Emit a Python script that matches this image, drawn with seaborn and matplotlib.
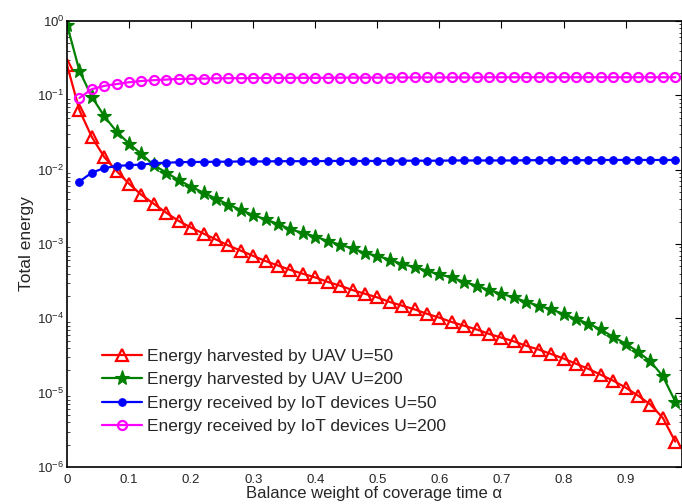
import numpy as np
import pandas as pd
import matplotlib
matplotlib.use('Agg')
import matplotlib.pyplot as plt
import seaborn as sns

# balance weight alpha
alpha_uav = [0.00, 0.02, 0.04, 0.06, 0.08, 0.10, 0.12, 0.14, 0.16, 0.18,
             0.20, 0.22, 0.24, 0.26, 0.28, 0.30, 0.32, 0.34, 0.36, 0.38,
             0.40, 0.42, 0.44, 0.46, 0.48, 0.50, 0.52, 0.54, 0.56, 0.58,
             0.60, 0.62, 0.64, 0.66, 0.68, 0.70, 0.72, 0.74, 0.76, 0.78,
             0.80, 0.82, 0.84, 0.86, 0.88, 0.90, 0.92, 0.94, 0.96, 0.98]
alpha_iot = alpha_uav[1:]

uav_u50 = [0.257, 0.0631, 0.0275, 0.0148, 0.00955, 0.00646, 0.00457, 0.00347, 0.00263, 0.00204,
           0.00166, 0.00138, 0.00115, 9.55e-4, 8.13e-4, 6.92e-4, 5.89e-4, 5.13e-4, 4.47e-4, 3.98e-4,
           3.55e-4, 3.09e-4, 2.75e-4, 2.40e-4, 2.14e-4, 1.91e-4, 1.66e-4, 1.48e-4, 1.32e-4, 1.15e-4,
           1.02e-4, 8.91e-5, 7.94e-5, 7.08e-5, 6.17e-5, 5.50e-5, 4.90e-5, 4.27e-5, 3.80e-5, 3.31e-5,
           2.88e-5, 2.45e-5, 2.09e-5, 1.74e-5, 1.45e-5, 1.17e-5, 9.12e-6, 6.92e-6, 4.57e-6, 2.19e-6]

uav_u200 = [0.891, 0.214, 0.0955, 0.0525, 0.0324, 0.0224, 0.0162, 0.0115, 0.00912, 0.00724,
            0.00589, 0.00490, 0.00407, 0.00339, 0.00288, 0.00245, 0.00214, 0.00186, 0.00158, 0.00141,
            0.00126, 0.00110, 9.77e-4, 8.71e-4, 7.59e-4, 6.92e-4, 6.17e-4, 5.37e-4, 4.90e-4, 4.37e-4,
            3.89e-4, 3.55e-4, 3.09e-4, 2.75e-4, 2.40e-4, 2.14e-4, 1.91e-4, 1.66e-4, 1.48e-4, 1.32e-4,
            1.15e-4, 9.77e-5, 8.51e-5, 7.08e-5, 5.62e-5, 4.57e-5, 3.55e-5, 2.63e-5, 1.66e-5, 7.59e-6]

iot_u50 = [0.00692, 0.00912, 0.0105, 0.0112, 0.0115, 0.0117, 0.0122, 0.0124, 0.0126,
           0.0127, 0.0127, 0.0128, 0.0128, 0.0129, 0.0129, 0.0129, 0.0130, 0.0130, 0.0130,
           0.0130, 0.0131, 0.0131, 0.0131, 0.0131, 0.0131, 0.0132, 0.0132, 0.0132, 0.0132,
           0.0132, 0.0133, 0.0133, 0.0133, 0.0133, 0.0133, 0.0133, 0.0134, 0.0134, 0.0134,
           0.0134, 0.0134, 0.0134, 0.0135, 0.0135, 0.0135, 0.0135, 0.0135, 0.0135, 0.0135]

iot_u200 = [0.0923, 0.121, 0.134, 0.142, 0.150, 0.156, 0.160, 0.163, 0.166,
            0.167, 0.168, 0.169, 0.170, 0.170, 0.171, 0.171, 0.171, 0.172, 0.172,
            0.172, 0.172, 0.173, 0.173, 0.173, 0.173, 0.173, 0.174, 0.174, 0.174,
            0.174, 0.174, 0.174, 0.174, 0.175, 0.175, 0.175, 0.175, 0.175, 0.175,
            0.175, 0.175, 0.175, 0.175, 0.175, 0.175, 0.175, 0.175, 0.175, 0.175]

labels = ['Energy harvested by UAV U=50', 'Energy harvested by UAV U=200',
          'Energy received by IoT devices U=50', 'Energy received by IoT devices U=200']

sns.set_style('white')
plt.rcParams['font.family'] = ['Liberation Sans', 'DejaVu Sans']
plt.rcParams['mathtext.default'] = 'regular'
plt.rcParams['xtick.direction'] = 'in'
plt.rcParams['ytick.direction'] = 'in'

fig = plt.figure(figsize=(6.82, 5.04), dpi=100)
ax = fig.add_axes([67 / 682, 37 / 504, 614.5 / 682, 446 / 504])

sns.lineplot(x=alpha_uav, y=uav_u50, ax=ax, color='#ff0000', lw=1.6, marker='^', ms=8,
             mfc='none', mec='#ff0000', mew=1.6, label=labels[0])
sns.lineplot(x=alpha_uav, y=uav_u200, ax=ax, color='#008000', lw=1.6, marker='*', ms=11,
             mfc='#008000', mec='#008000', mew=0.8, label=labels[1])
sns.lineplot(x=alpha_iot, y=iot_u50, ax=ax, color='#0000ff', lw=1.6, marker='o', ms=5.5,
             mfc='#0000ff', mec='#0000ff', label=labels[2])
sns.lineplot(x=alpha_iot, y=iot_u200, ax=ax, color='#ff00ff', lw=1.6, marker='o', ms=6.5,
             mfc='none', mec='#ff00ff', mew=1.6, label=labels[3])

ax.set_yscale('log')
ax.set_ylim(1e-6, 1e0)
ax.set_xlim(0, 0.99)
ax.set_xticks([0, 0.1, 0.2, 0.3, 0.4, 0.5, 0.6, 0.7, 0.8, 0.9])
ax.set_xticklabels(['0', '0.1', '0.2', '0.3', '0.4', '0.5', '0.6', '0.7', '0.8', '0.9'])
ax.tick_params(axis='both', which='major', labelsize=9.5, length=5, width=0.8,
               top=True, right=True, color='black')
ax.tick_params(axis='y', which='minor', length=2.5, width=0.6, right=True, left=True)
ax.tick_params(axis='x', which='major', pad=5)
ax.tick_params(axis='y', which='major', pad=2)
for sp in ax.spines.values():
    sp.set_color('black')
    sp.set_linewidth(1.2)

ax.set_xlabel('Balance weight of coverage time α', fontsize=12, labelpad=0)
ax.set_ylabel('Total energy', fontsize=12.5, labelpad=2)
ax.grid(False)

ax.legend(loc='lower left', bbox_to_anchor=(0.057, 0.074), frameon=False, fontsize=12.5,
          handlelength=2.3, handletextpad=0.3, labelspacing=0.47, borderpad=0,
          borderaxespad=0)

fig.savefig('out.png', dpi=100)
